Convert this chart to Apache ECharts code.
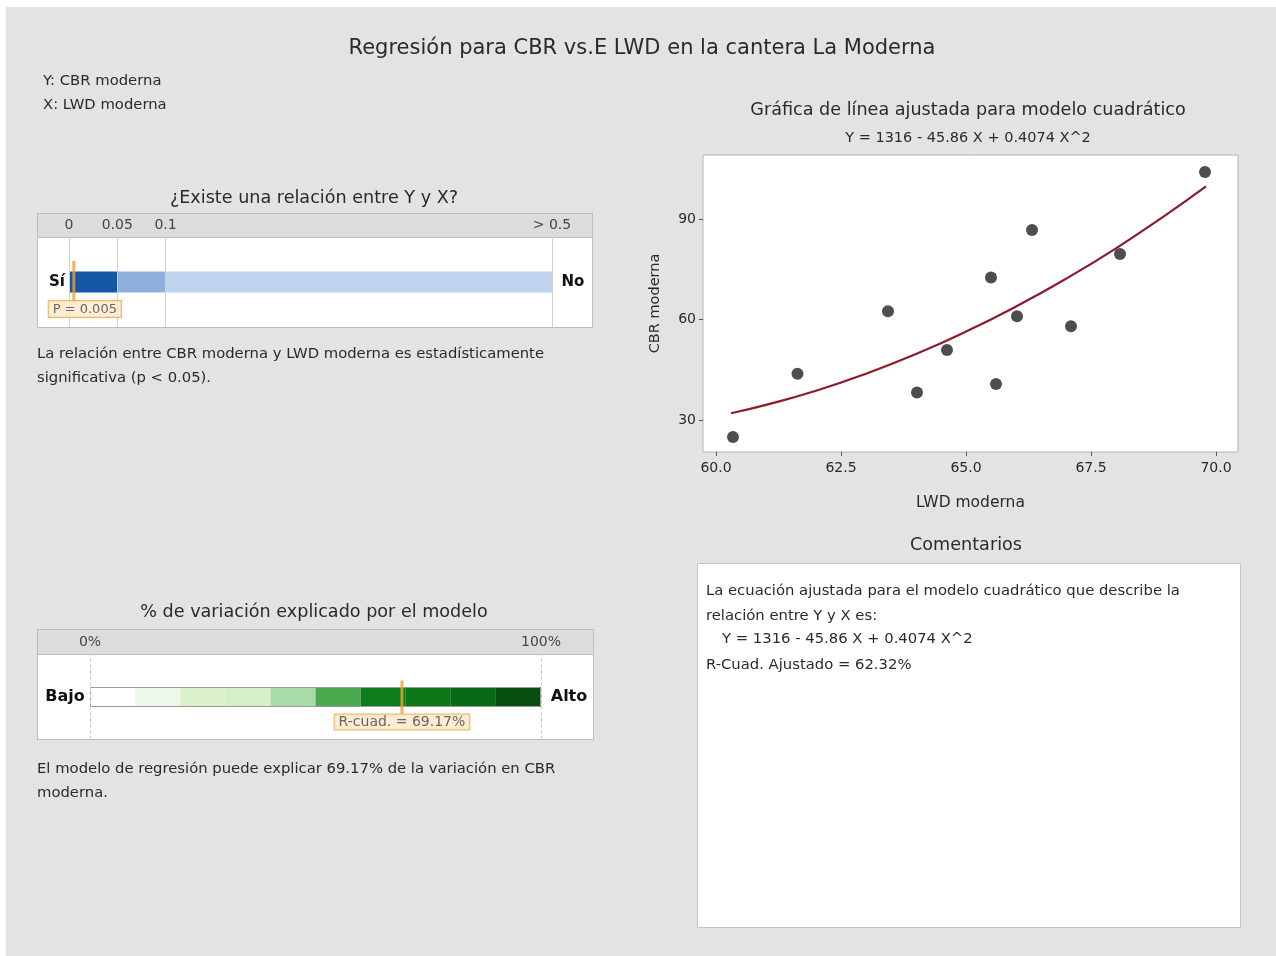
<!DOCTYPE html>
<html>
<head>
<meta charset="utf-8">
<script src="https://cdn.jsdelivr.net/npm/echarts@6/dist/echarts.min.js"></script>
<style>
html,body{margin:0;padding:0;background:#ffffff;}
#c{width:1276px;height:956px;}
</style>
</head>
<body>
<div id="c"></div>
<script>
// ---------- data ----------
const lwd = [60.34, 61.63, 63.44, 64.02, 64.62, 65.50, 65.60, 66.02, 66.32, 67.10, 68.08, 69.78];
const cbr = [24.9, 43.8, 62.5, 38.2, 50.9, 72.6, 40.7, 61.0, 86.8, 58.0, 79.6, 104.1];
// fitted quadratic line
const fitX = [60.3, 61, 62, 63, 64, 65, 66, 67, 68, 69, 69.8];
const fitY = [32.0, 34.5, 38.7, 43.8, 49.7, 56.4, 63.9, 72.2, 81.3, 91.3, 99.8];
const xTicks = [60, 62.5, 65, 67.5, 70];
const yTicks = [30, 60, 90];

const pTicks = [0, 0.05, 0.1, 0.5];
const pTickLabels = ['0', '0.05', '0.1', '> 0.5'];
const pSegments = [0.05, 0.05, 0.4];
const pValue = 0.005;

const rTicks = [0, 100];
const rTickLabels = ['0%', '100%'];
const rSegments = [10, 10, 10, 10, 10, 10, 10, 10, 10, 10];
const rsq = 69.17;

// ---------- styles ----------
const FONT = 'DejaVu Sans';
const pColors = ['#1656a6', '#8db0dd', '#bfd3ee'];
const rColors = ['#ffffff', '#eef8e8', '#dbf1cd', '#d6efc8', '#a7dca8', '#4aa84e', '#0d7c1c', '#0b7719', '#086a14', '#054e0e'];
const ORANGE = '#f0a030';
const SMALL = 14.8;
const HEAD = 17.6;

const chart = echarts.init(document.getElementById('c'), null, {renderer: 'canvas'});

function txt(x, y, s, size, opts) {
  return {
    type: 'text', x: x, y: y, z: 10,
    style: Object.assign({text: s, fontSize: size, fontFamily: FONT, fill: '#2a2a2a',
      textAlign: 'left', textVerticalAlign: 'middle'}, opts || {})
  };
}

const graphics = [
  {type: 'rect', shape: {x: 6, y: 7, width: 1270, height: 949}, style: {fill: '#e3e3e3'}, z: -10},
  txt(642, 49, 'Regresión para CBR vs.E LWD en la cantera La Moderna', 21, {textAlign: 'center'}),
  txt(43, 81, 'Y: CBR moderna', SMALL),
  txt(43, 105, 'X: LWD moderna', SMALL),
  // p panel
  txt(314, 198, '¿Existe una relación entre Y y X?', HEAD, {textAlign: 'center'}),
  {type: 'rect', shape: {x: 37.5, y: 213.5, width: 555, height: 114}, style: {fill: '#ffffff', stroke: '#bdbdbd', lineWidth: 1}, z: -5},
  {type: 'rect', shape: {x: 37.5, y: 213.5, width: 555, height: 24}, style: {fill: '#dcdcdc', stroke: '#bdbdbd', lineWidth: 1}, z: -5},
  txt(57, 282, 'Sí', 15, {textAlign: 'center', fontWeight: 'bold', fill: '#111'}),
  txt(573, 282, 'No', 15, {textAlign: 'center', fontWeight: 'bold', fill: '#111'}),
  txt(37, 354, 'La relación entre CBR moderna y LWD moderna es estadísticamente', SMALL),
  txt(37, 378, 'significativa (p < 0.05).', SMALL),
  // r panel
  txt(314, 612, '% de variación explicado por el modelo', HEAD, {textAlign: 'center'}),
  {type: 'rect', shape: {x: 37.5, y: 629.5, width: 556, height: 110}, style: {fill: '#ffffff', stroke: '#bdbdbd', lineWidth: 1}, z: -5},
  {type: 'rect', shape: {x: 37.5, y: 629.5, width: 556, height: 25}, style: {fill: '#dcdcdc', stroke: '#bdbdbd', lineWidth: 1}, z: -5},
  txt(65, 697, 'Bajo', 16, {textAlign: 'center', fontWeight: 'bold', fill: '#111'}),
  txt(569, 697, 'Alto', 16, {textAlign: 'center', fontWeight: 'bold', fill: '#111'}),
  txt(37, 769, 'El modelo de regresión puede explicar 69.17% de la variación en CBR', SMALL),
  txt(37, 793, 'moderna.', SMALL),
  // scatter titles
  txt(968, 110, 'Gráfica de línea ajustada para modelo cuadrático', HEAD, {textAlign: 'center'}),
  txt(968, 138, 'Y = 1316 - 45.86 X + 0.4074 X^2', 14.5, {textAlign: 'center'}),
  // comments
  txt(966, 545, 'Comentarios', HEAD, {textAlign: 'center'}),
  {type: 'rect', shape: {x: 697.5, y: 563.5, width: 543, height: 364}, style: {fill: '#ffffff', stroke: '#c4c4c4', lineWidth: 1}, z: -5},
  txt(706, 591, 'La ecuación ajustada para el modelo cuadrático que describe la', SMALL),
  txt(706, 616, 'relación entre Y y X es:', SMALL),
  txt(722, 639, 'Y = 1316 - 45.86 X + 0.4074 X^2', SMALL),
  txt(706, 665, 'R-Cuad. Ajustado = 62.32%', SMALL)
];

const pSeries = pSegments.map((v, i) => ({
  type: 'bar', xAxisIndex: 1, yAxisIndex: 1, stack: 'p', barWidth: 21, z: 3,
  data: [v], itemStyle: {color: pColors[i]}, silent: true
}));
const rSeries = rSegments.map((v, i) => ({
  type: 'bar', xAxisIndex: 2, yAxisIndex: 2, stack: 'r', barWidth: 20, barGap: '-100%', z: 3,
  data: [v], itemStyle: {color: rColors[i]}, silent: true
}));

const option = {
  animation: false,
  backgroundColor: 'transparent',
  textStyle: {fontFamily: FONT},
  graphic: graphics,
  grid: [
    {left: 703, top: 155, width: 535, height: 297, show: true, backgroundColor: '#ffffff', borderColor: '#b4b4b4', borderWidth: 1},
    {left: 69, top: 237, width: 483, height: 90},
    {left: 90, top: 654, width: 451, height: 86}
  ],
  xAxis: [
    {gridIndex: 0, type: 'value', min: 59.74, max: 70.44,
      name: 'LWD moderna', nameLocation: 'middle', nameGap: 43,
      nameTextStyle: {fontSize: 15.5, color: '#2a2a2a'},
      axisLine: {show: false}, splitLine: {show: false},
      axisTick: {show: true, length: 4, customValues: xTicks, lineStyle: {color: '#555'}},
      axisLabel: {customValues: xTicks, margin: 9, fontSize: 14, color: '#2a2a2a', formatter: v => v.toFixed(1)}},
    {gridIndex: 1, type: 'value', min: 0, max: 0.5, position: 'top',
      axisLine: {show: false}, splitLine: {show: false}, axisTick: {show: false},
      axisLabel: {customValues: pTicks, margin: 5, fontSize: 14, color: '#444',
        formatter: v => pTickLabels[pTicks.indexOf(v)]}},
    {gridIndex: 2, type: 'value', min: 0, max: 100, position: 'top',
      axisLine: {show: false}, splitLine: {show: false}, axisTick: {show: false},
      axisLabel: {customValues: rTicks, margin: 5, fontSize: 14, color: '#444',
        formatter: v => rTickLabels[rTicks.indexOf(v)]}}
  ],
  yAxis: [
    {gridIndex: 0, type: 'value', min: 20.4, max: 109.2,
      name: 'CBR moderna', nameLocation: 'middle', nameGap: 40, nameRotate: 90,
      nameTextStyle: {fontSize: 14.5, color: '#2a2a2a'},
      axisLine: {show: false}, splitLine: {show: false},
      axisTick: {show: true, length: 4, customValues: yTicks, lineStyle: {color: '#555'}},
      axisLabel: {customValues: yTicks, margin: 7, fontSize: 14, color: '#2a2a2a'}},
    {gridIndex: 1, type: 'category', data: ['p'], show: false},
    {gridIndex: 2, type: 'category', data: ['r'], show: false}
  ],
  series: [
    {type: 'line', xAxisIndex: 0, yAxisIndex: 0, smooth: true, symbol: 'none', z: 2,
      data: fitX.map((x, i) => [x, fitY[i]]), lineStyle: {color: '#8e1a2c', width: 2.2}},
    {type: 'scatter', xAxisIndex: 0, yAxisIndex: 0, symbolSize: 12, z: 4,
      data: lwd.map((x, i) => [x, cbr[i]]), itemStyle: {color: '#222222'}},
    // guide lines in p panel
    {type: 'scatter', xAxisIndex: 1, yAxisIndex: 1, data: [], z: 1, silent: true,
      markLine: {silent: true, symbol: 'none', label: {show: false},
        lineStyle: {color: '#d0d0d0', width: 1, type: 'solid'},
        data: pTicks.map(v => ({xAxis: v}))}},
    ...pSeries,
    {type: 'scatter', xAxisIndex: 1, yAxisIndex: 1, z: 6, silent: true,
      symbol: 'rect', symbolSize: [3, 42], itemStyle: {color: ORANGE},
      data: [[pValue, 'p']],
      label: {show: true, position: 'bottom', distance: -2, offset: [11, 0],
        formatter: 'P = ' + pValue, fontSize: 13, color: '#444',
        backgroundColor: '#fde9c9', borderColor: '#e9a640', borderWidth: 1, padding: [2, 4, 1, 4]}},
    // guide lines in r panel
    {type: 'scatter', xAxisIndex: 2, yAxisIndex: 2, data: [], z: 1, silent: true,
      markLine: {silent: true, symbol: 'none', label: {show: false},
        lineStyle: {color: '#d0d0d0', width: 1, type: 'dashed'},
        data: rTicks.map(v => ({xAxis: v}))}},
    ...rSeries,
    {type: 'bar', xAxisIndex: 2, yAxisIndex: 2, barWidth: 20, barGap: '-100%', z: 4, silent: true,
      data: [100], itemStyle: {color: 'transparent', borderColor: '#9a9a9a', borderWidth: 1}},
    {type: 'scatter', xAxisIndex: 2, yAxisIndex: 2, z: 6, silent: true,
      symbol: 'rect', symbolSize: [3, 33], itemStyle: {color: ORANGE},
      data: [[rsq, 'r']],
      label: {show: true, position: 'bottom', distance: 1,
        formatter: 'R-cuad. = ' + rsq.toFixed(2) + '%', fontSize: 14, color: '#444',
        backgroundColor: '#fde9c9', borderColor: '#e9a640', borderWidth: 1, padding: [1, 4, 0, 4]}}
  ]
};
chart.setOption(option);
</script>
</body>
</html>
